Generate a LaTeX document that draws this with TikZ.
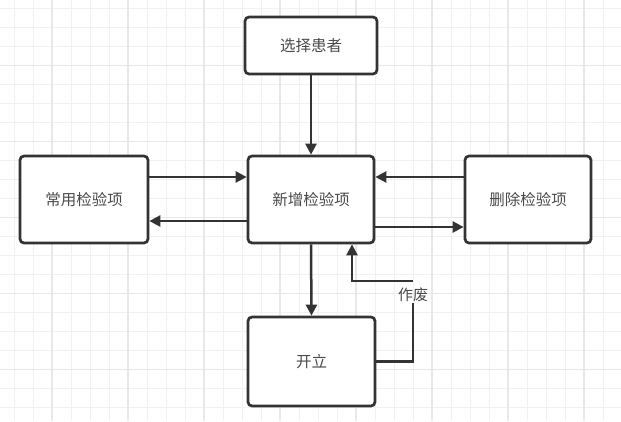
\documentclass[tikz,border=0pt]{standalone}
\usepackage{fontspec}
\newfontfamily\cjk{Noto Sans CJK SC}
\usetikzlibrary{arrows.meta}
\definecolor{linec}{HTML}{333333}
\definecolor{textc}{HTML}{4A4A4A}
\definecolor{gridminor}{HTML}{F1F1F1}
\definecolor{gridmajor}{HTML}{E8E8E8}
\tikzset{
  box/.style={draw=linec, line width=2.7pt, rounded corners=4pt, fill=white,
    minimum width=#1, inner sep=0pt, font=\cjk\fontsize{15.5}{17}\selectfont, text=textc},
  arr/.style={draw=linec, line width=2.5pt, -{Triangle[length=11pt,width=11pt]}},
  ln/.style={draw=linec, line width=2.5pt},
  lbl/.style={font=\cjk\fontsize{15}{17}\selectfont, text=textc, inner sep=1pt}
}
\begin{document}
\begin{tikzpicture}[x=1pt,y=-1pt]
\useasboundingbox (0,0) rectangle (621,421);
\fill[white] (0,0) rectangle (621,421);
% grid
\foreach \i in {0,...,32} {\draw[gridminor, line width=1pt] ({14+19*\i},0) -- ({14+19*\i},421);}
\foreach \i in {0,...,22} {\draw[gridminor, line width=1pt] (0,{8.7+19*\i}) -- (621,{8.7+19*\i});}
\foreach \i in {0,...,7} {\draw[gridmajor, line width=1.2pt] ({52+76*\i},0) -- ({52+76*\i},421);}
\foreach \i in {0,...,4} {\draw[gridmajor, line width=1.2pt] (0,{65.7+76*\i}) -- (621,{65.7+76*\i});}
% nodes
\node[box=132pt, minimum height=57pt] (sel) at (311,45.5) {选择患者};
\node[box=128pt, minimum height=87pt] (com) at (84,199.5) {常用检验项};
\node[box=126pt, minimum height=87pt] (new) at (311,199.5) {新增检验项};
\node[box=126pt, minimum height=87pt] (del) at (528,199.5) {删除检验项};
\node[box=127pt, minimum height=89pt] (kai) at (311.5,361.5) {开立};
\node[lbl] (zf) at (413,294.5) {作废};
\coordinate (c1) at (413,281);
% connectors
\draw[arr] (sel.south) -- (new.north);
\draw[arr] (com.east |- 0,177) -- (new.west |- 0,177);
\draw[arr] (new.west |- 0,221) -- (com.east |- 0,221);
\draw[arr] (del.west |- 0,177) -- (new.east |- 0,177);
\draw[arr] (new.east |- 0,227) -- (del.west |- 0,227);
\draw[arr] (new.south) -- (kai.north);
\draw[ln] (kai.east) -| (zf.south);
\draw[arr] (c1) -| ([xshift=41pt]new.south);
\end{tikzpicture}
\end{document}
